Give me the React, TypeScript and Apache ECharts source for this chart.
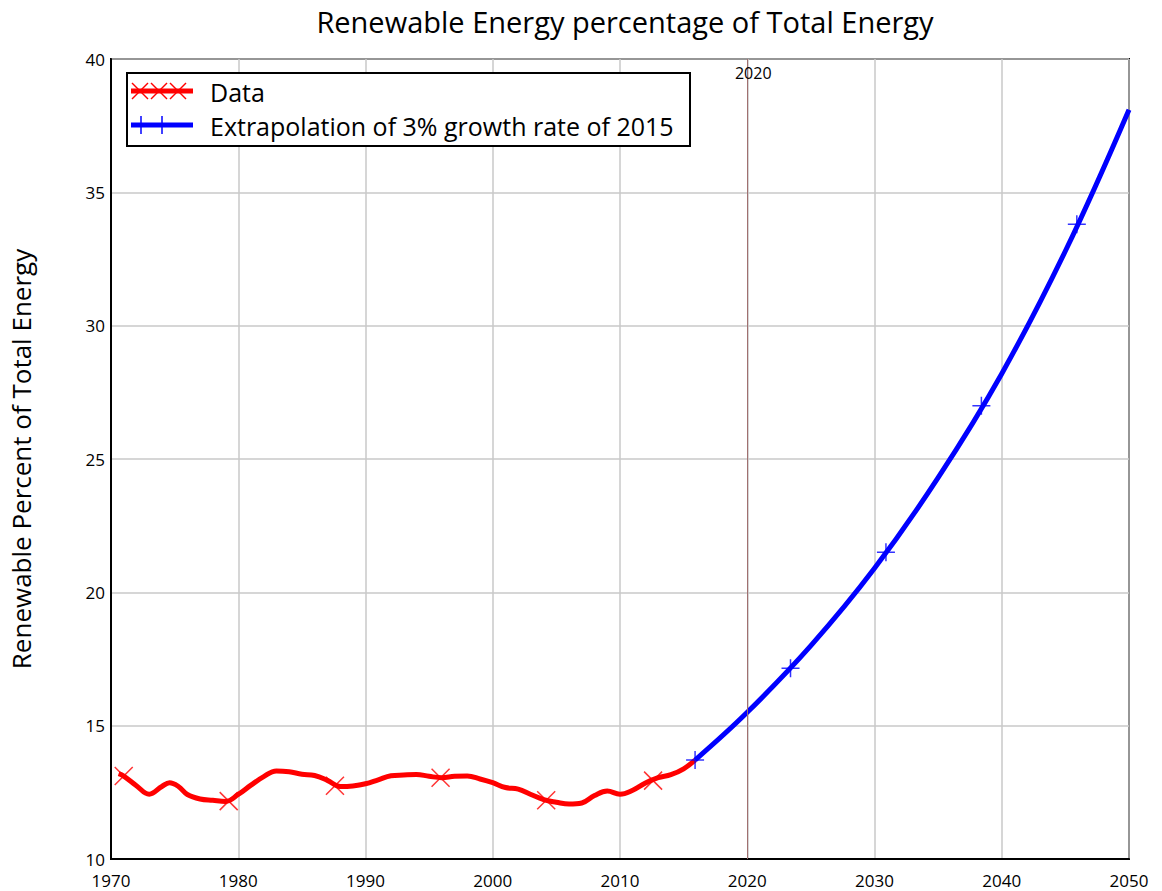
import React, { useEffect, useRef } from "react";
import * as echarts from "echarts";

// Historical data (year, % renewable of total energy)
const redYears = [1970.6, 1971, 1972, 1973, 1974, 1974.6, 1975.3, 1976, 1977, 1978, 1979, 1980, 1981, 1982, 1983, 1984, 1985, 1986, 1987, 1988, 1989, 1990, 1991, 1992, 1993, 1994, 1995, 1996, 1997, 1998, 1999, 2000, 2001, 2002, 2003, 2004, 2005, 2006, 2007, 2008, 2009, 2010, 2011, 2012, 2013, 2014, 2015, 2015.9];
const redValues = [13.2, 13.11, 12.75, 12.43, 12.72, 12.86, 12.72, 12.42, 12.25, 12.2, 12.16, 12.42, 12.77, 13.09, 13.3, 13.27, 13.18, 13.13, 12.95, 12.72, 12.74, 12.82, 12.97, 13.12, 13.15, 13.17, 13.1, 13.05, 13.1, 13.11, 13.0, 12.86, 12.68, 12.62, 12.42, 12.23, 12.13, 12.06, 12.1, 12.38, 12.55, 12.43, 12.58, 12.85, 13.05, 13.16, 13.38, 13.71];
// Marker positions on the data curve
const redMarkerYears = [1971.0, 1979.25, 1987.6, 1995.9, 2004.2, 2012.6];
const redMarkerValues = [13.11, 12.17, 12.75, 13.05, 12.2, 12.94];

// Extrapolation curve
const blueYears = [2015.9, 2020, 2025, 2030, 2035, 2040, 2045, 2050];
const blueValues = [13.71, 15.5, 18.0, 20.9, 24.3, 28.2, 32.8, 38.1];
const blueMarkerYears = [2015.9, 2023.4, 2030.9, 2038.4, 2045.9];
const blueMarkerValues = [13.71, 17.15, 21.5, 27.0, 33.8];

const markYear = 2020;
const xTicks = { min: 1970, max: 2050, interval: 10 };
const yTicks = { min: 10, max: 40, interval: 5 };

const FONT = "Open Sans";
const crossPath = "path://M0,0 L2,2 M2,0 L0,2";
const plusPath = "path://M1,0 L1,2 M0,1 L2,1";

export default function App() {
  const ref = useRef<HTMLDivElement>(null);
  useEffect(() => {
    if (!ref.current) return;
    const chart = echarts.init(ref.current, undefined, { renderer: "svg" });
    const zip = (a: number[], b: number[]) => a.map((x, i) => [x, b[i]]);
    const legendGraphics: any[] = [
      { type: "rect", z: 100, shape: { x: 127, y: 73, width: 563, height: 73 }, style: { fill: "#fff", stroke: "#000", lineWidth: 2 } },
      { type: "line", z: 101, shape: { x1: 131, y1: 91, x2: 193, y2: 91 }, style: { stroke: "#ff0000", lineWidth: 5 } },
      ...[140, 159, 178].flatMap((cx) => [
        { type: "line", z: 102, shape: { x1: cx - 8, y1: 83, x2: cx + 8, y2: 99 }, style: { stroke: "#ff0000", lineWidth: 1.5 } },
        { type: "line", z: 102, shape: { x1: cx - 8, y1: 99, x2: cx + 8, y2: 83 }, style: { stroke: "#ff0000", lineWidth: 1.5 } },
      ]),
      { type: "text", z: 101, x: 210, y: 92, style: { text: "Data", fontFamily: FONT, fontSize: 25, fill: "#000", verticalAlign: "middle" } },
      { type: "line", z: 101, shape: { x1: 131, y1: 125, x2: 193, y2: 125 }, style: { stroke: "#0000ff", lineWidth: 5 } },
      ...[141, 162].flatMap((cx) => [
        { type: "line", z: 102, shape: { x1: cx, y1: 116, x2: cx, y2: 134 }, style: { stroke: "#0000ff", lineWidth: 1.5 } },
        { type: "line", z: 102, shape: { x1: cx - 9, y1: 125, x2: cx + 9, y2: 125 }, style: { stroke: "#0000ff", lineWidth: 1.5 } },
      ]),
      { type: "text", z: 101, x: 210, y: 126, style: { text: "Extrapolation of 3% growth rate of 2015", fontFamily: FONT, fontSize: 25, fill: "#000", verticalAlign: "middle" } },
    ];
    chart.setOption({
      animation: false,
      backgroundColor: "#fff",
      textStyle: { fontFamily: FONT },
      title: {
        text: "Renewable Energy percentage of Total Energy",
        left: 620,
        textAlign: "center",
        top: 2,
        textStyle: { fontFamily: FONT, fontSize: 29, fontWeight: "normal", color: "#000" },
      },
      grid: { left: 111, right: 33, top: 59, bottom: 32, show: true, borderColor: "#000", borderWidth: 2, backgroundColor: "transparent" },
      xAxis: {
        type: "value",
        min: xTicks.min,
        max: xTicks.max,
        interval: xTicks.interval,
        axisLine: { show: true, lineStyle: { color: "#000", width: 2 } },
        axisTick: { show: false },
        axisLabel: { color: "#000", fontSize: 17, margin: 13, fontFamily: FONT, formatter: (v: number) => String(v) },
        splitLine: { show: true, lineStyle: { color: "#c8c8c8", width: 1.5 } },
      },
      yAxis: {
        type: "value",
        min: yTicks.min,
        max: yTicks.max,
        interval: yTicks.interval,
        name: "Renewable Percent of Total Energy",
        nameLocation: "middle",
        nameGap: 77,
        nameRotate: 90,
        nameTextStyle: { fontSize: 26, color: "#000", fontFamily: FONT },
        axisLine: { show: true, lineStyle: { color: "#000", width: 2 } },
        axisTick: { show: false },
        axisLabel: { color: "#000", fontSize: 17, margin: 6, fontFamily: FONT, padding: [4, 0, 0, 0] },
        splitLine: { show: true, lineStyle: { color: "#c8c8c8", width: 1.5 } },
      },
      series: [
        {
          name: "Data",
          type: "line",
          data: zip(redYears, redValues),
          smooth: 0.4,
          showSymbol: false,
          lineStyle: { color: "#ff0000", width: 5 },
          z: 3,
          markLine: {
            silent: true,
            symbol: "none",
            lineStyle: { color: "#a07070", width: 1, type: "solid" },
            label: { show: false },
            data: [{ xAxis: markYear }],
          },
        },
        {
          name: "Extrapolation of 3% growth rate of 2015",
          type: "line",
          data: zip(blueYears, blueValues),
          smooth: 0.4,
          showSymbol: false,
          lineStyle: { color: "#0000ff", width: 5 },
          z: 4,
        },
        {
          type: "scatter",
          data: zip(redMarkerYears, redMarkerValues),
          symbol: crossPath,
          symbolSize: 18,
          itemStyle: { color: "transparent", borderColor: "#ff0000", borderWidth: 1.5 },
          z: 5,
        },
        {
          type: "scatter",
          data: zip(blueMarkerYears, blueMarkerValues),
          symbol: plusPath,
          symbolSize: 18,
          itemStyle: { color: "transparent", borderColor: "#0000ff", borderWidth: 1.5 },
          z: 6,
        },
      ],
      graphic: legendGraphics,
    });
    const px = chart.convertToPixel({ xAxisIndex: 0, yAxisIndex: 0 }, [markYear, yTicks.max]) as number[];
    chart.setOption({
      graphic: [
        ...legendGraphics,
        { type: "text", z: 50, x: px[0] + 6, y: px[1] + 14, style: { text: String(markYear), fontFamily: FONT, fontSize: 16, fill: "#000", align: "center", verticalAlign: "middle" } },
      ],
    });
    return () => chart.dispose();
  }, []);
  return <div ref={ref} style={{ position: "fixed", left: 0, top: 0, width: 1162, height: 891 }} />;
}
